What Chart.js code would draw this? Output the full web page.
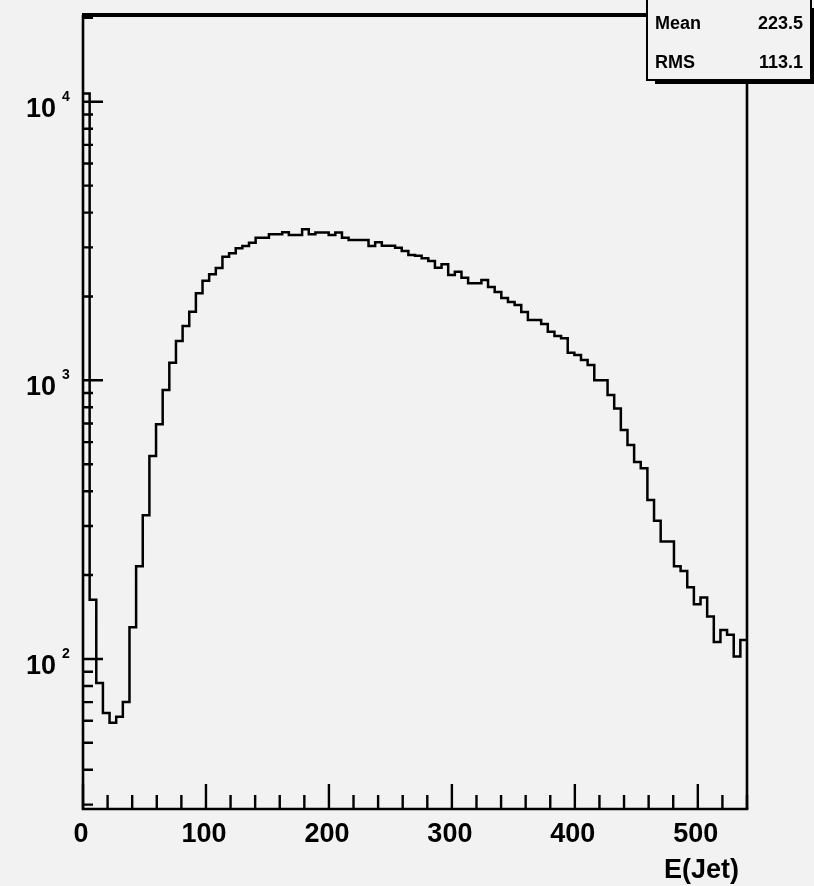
<!doctype html>
<html>
  <head>
    <meta charset="UTF-8">
    <title>E(Jet)</title>
    <script src="https://cdn.jsdelivr.net/npm/chart.js@4.4.0/dist/chart.umd.min.js"></script>
    <style>
      body {
        margin: 0;
        background: #f2f2f2;
      }
      #wrap {
        width: 814px;
        height: 886px;
      }
    </style>
  </head>
  <body>
    <div id="wrap">
      <canvas id="histo" width="814" height="886"></canvas>
    </div>
    <script>
      // histogram binning (ROOT TH1, 100 bins from 0 to 540)
      var xMin = 0
      var xMax = 540
      var nBins = 100
      var yMin = 28.93
      var yMax = 20477

      // bin contents
      var counts = [
        10700, 163, 82, 64, 59, 62, 70, 130, 215, 328,
        535, 695, 923, 1157, 1384, 1566, 1763, 2053, 2278, 2402,
        2530, 2779, 2857, 2977, 3034, 3118, 3250, 3250, 3343, 3343,
        3398, 3323, 3323, 3483, 3343, 3390, 3390, 3323, 3390, 3250,
        3189, 3189, 3189, 3034, 3128, 3042, 3042, 2991, 2912, 2817,
        2800, 2741, 2681, 2537, 2609, 2388, 2454, 2335, 2230, 2230,
        2291, 2162, 2075, 1974, 1910, 1864, 1759, 1646, 1646, 1592,
        1495, 1442, 1415, 1257, 1233, 1183, 1135, 1000, 1000, 886,
        793, 663, 586, 509, 484, 372, 313, 264, 264, 215,
        207, 181, 157, 166, 142, 115, 127, 122, 102, 117
      ]

      // axis labels
      var xTickValues = [0, 100, 200, 300, 400, 500]
      var xTickLabels = ['0', '100', '200', '300', '400', '500']
      var yDecades = [2, 3, 4]
      var xTitle = 'E(Jet)'

      // stats box
      var statNames = ['Mean', 'RMS']
      var statValues = ['223.5', '113.1']

      var binWidth = (xMax - xMin) / nBins
      var points = []
      for (var i = 0; i < counts.length; i++) {
        points.push({x: xMin + i * binWidth, y: counts[i]})
      }
      points.push({x: xMax, y: counts[counts.length - 1]})

      var FONT = '"Liberation Sans", Arial, Helvetica, sans-serif'

      var rootStyle = {
        id: 'rootStyle',
        beforeDraw: function(chart) {
          var ctx = chart.ctx
          ctx.save()
          ctx.fillStyle = '#f2f2f2'
          ctx.fillRect(0, 0, chart.width, chart.height)
          ctx.restore()
        },
        afterDraw: function(chart) {
          var ctx = chart.ctx
          var a = chart.chartArea
          var xs = chart.scales.x
          var ys = chart.scales.y
          ctx.save()
          ctx.strokeStyle = '#000'
          ctx.fillStyle = '#000'
          ctx.lineCap = 'butt'

          // frame
          ctx.lineWidth = 4
          ctx.beginPath()
          ctx.moveTo(a.left - 1, a.top)
          ctx.lineTo(a.right, a.top)
          ctx.stroke()
          ctx.lineWidth = 2.6
          ctx.beginPath()
          ctx.moveTo(a.right, a.top)
          ctx.lineTo(a.right, a.bottom)
          ctx.stroke()
          ctx.beginPath()
          ctx.moveTo(a.left, a.top)
          ctx.lineTo(a.left, a.bottom + 1.3)
          ctx.moveTo(a.left - 1.3, a.bottom)
          ctx.lineTo(a.right + 1.3, a.bottom)
          ctx.stroke()

          // y ticks (inside)
          ctx.lineWidth = 2.4
          ctx.beginPath()
          for (var d = 1; d <= 4; d++) {
            for (var m = 1; m <= 9; m++) {
              var v = m * Math.pow(10, d)
              if (v < yMin || v > yMax) continue
              var py = ys.getPixelForValue(v)
              ctx.moveTo(a.left, py)
              ctx.lineTo(a.left + (m == 1 ? 20 : 10), py)
            }
          }
          ctx.stroke()

          // x ticks (inside)
          ctx.beginPath()
          for (var t = xMin; t <= xMax; t += 20) {
            var px = xs.getPixelForValue(t)
            ctx.moveTo(px, a.bottom)
            ctx.lineTo(px, a.bottom - (t % 100 == 0 ? 25 : 14))
          }
          ctx.stroke()

          // x labels
          ctx.font = 'bold 27px ' + FONT
          ctx.textAlign = 'center'
          ctx.textBaseline = 'alphabetic'
          for (var k = 0; k < xTickValues.length; k++) {
            ctx.fillText(xTickLabels[k], xs.getPixelForValue(xTickValues[k]) - 2, 842)
          }
          ctx.textAlign = 'right'
          ctx.fillText(xTitle, 739, 878)

          // y labels 10^n
          for (var j = 0; j < yDecades.length; j++) {
            var ty = ys.getPixelForValue(Math.pow(10, yDecades[j]))
            ctx.font = 'bold 27px ' + FONT
            ctx.textAlign = 'right'
            ctx.fillText('10', 56, ty + 15)
            ctx.font = 'bold 14px ' + FONT
            ctx.textAlign = 'left'
            ctx.fillText(String(yDecades[j]), 62, ty - 1)
          }

          // stats box with shadow
          var bx = 647, by = -10, bw = 164, bh = 90
          ctx.fillRect(bx + 8, by + bh, bw, 4)
          ctx.fillRect(bx + bw, by + 18, 4, bh - 14)
          ctx.fillStyle = '#f2f2f2'
          ctx.fillRect(bx, by, bw, bh)
          ctx.lineWidth = 2
          ctx.strokeRect(bx, by, bw, bh)
          ctx.fillStyle = '#000'
          ctx.font = 'bold 18px ' + FONT
          for (var s = 0; s < statNames.length; s++) {
            var sy = 29 + s * 39
            ctx.textAlign = 'left'
            ctx.fillText(statNames[s], 655, sy)
            ctx.textAlign = 'right'
            ctx.fillText(statValues[s], 803, sy)
          }
          ctx.restore()
        }
      }

      var ctx = document.getElementById('histo').getContext('2d')
      var histoChart = new Chart(ctx, {
        type: 'line',
        data: {
          datasets: [{
            label: 'E(Jet)',
            data: points,
            stepped: 'before',
            borderColor: '#000',
            borderWidth: 2.5,
            pointRadius: 0,
            fill: false,
            tension: 0
          }]
        },
        options: {
          responsive: false,
          animation: false,
          layout: {
            padding: {left: 83, right: 67, top: 15, bottom: 77}
          },
          plugins: {
            legend: {display: false},
            tooltip: {enabled: false}
          },
          scales: {
            x: {type: 'linear', min: xMin, max: xMax, display: false},
            y: {type: 'logarithmic', min: yMin, max: yMax, display: false}
          }
        },
        plugins: [rootStyle]
      })
    </script>
  </body>
</html>
